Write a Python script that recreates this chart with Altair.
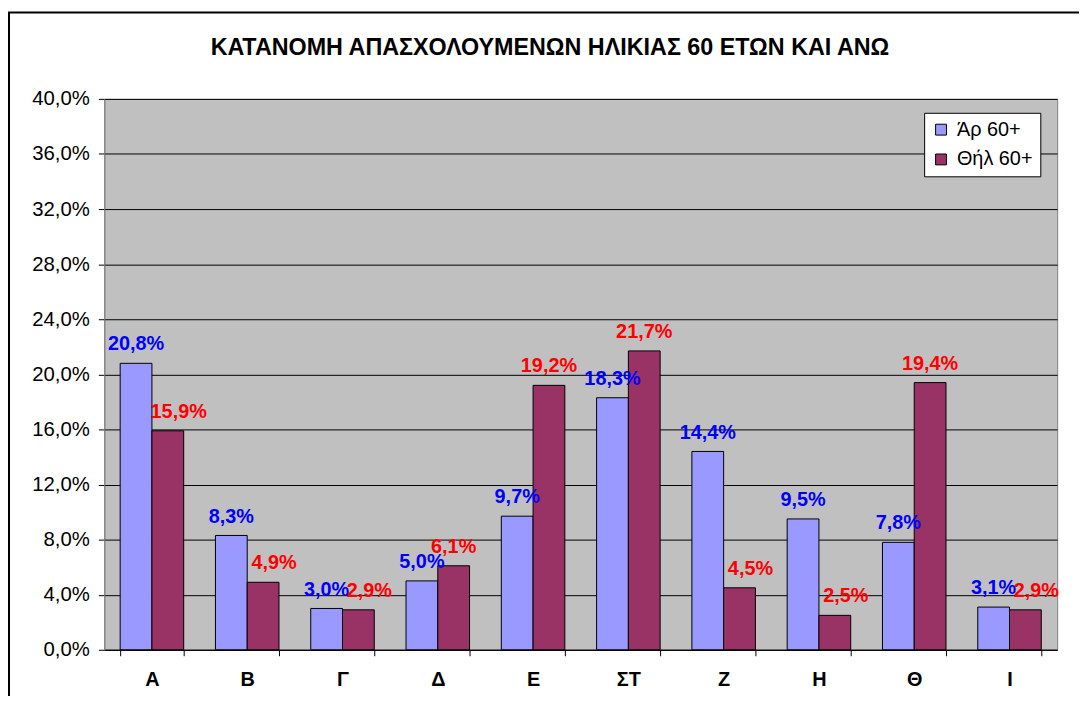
import altair as alt
import pandas as pd

categories = ["Α", "Β", "Γ", "Δ", "Ε", "ΣΤ", "Ζ", "Η", "Θ", "Ι"]
series = ["Άρ 60+", "Θήλ 60+"]
male = [20.8, 8.3, 3.0, 5.0, 9.7, 18.3, 14.4, 9.5, 7.8, 3.1]
female = [15.9, 4.9, 2.9, 6.1, 19.2, 21.7, 4.5, 2.5, 19.4, 2.9]
bar_colors = ["#9999FF", "#993366"]
label_colors = ["#0000FF", "#FF0000"]
y_ticks = [0, 4, 8, 12, 16, 20, 24, 28, 32, 36, 40]
title_text = ["ΚΑΤΑΝΟΜΗ ΑΠΑΣΧΟΛΟΥΜΕΝΩΝ ΗΛΙΚΙΑΣ 60 ΕΤΩΝ ΚΑΙ ΑΝΩ"]

rows = []
for c, m, f in zip(categories, male, female):
    rows.append({"cat": c, "series": series[0], "value": m})
    rows.append({"cat": c, "series": series[1], "value": f})
df = pd.DataFrame(rows)

FONT = "Liberation Sans"

x_enc = alt.X(
    "cat:N",
    sort=categories,
    scale=alt.Scale(paddingInner=1 / 3, paddingOuter=1 / 6),
    axis=alt.Axis(
        title=None,
        labelAngle=0,
        labelFont=FONT,
        labelFontSize=20,
        labelFontWeight="bold",
        labelColor="black",
        labelPadding=14,
        tickBand="extent",
        tickSize=6,
        tickColor="#000000",
        domainColor="#000000",
        grid=False,
    ),
)
xoff = alt.XOffset("series:N", sort=series)
y_enc = alt.Y(
    "value:Q",
    scale=alt.Scale(domain=[0, 40], nice=False),
    axis=alt.Axis(
        title=None,
        values=y_ticks,
        labelExpr="replace(format(datum.value, '.1f'), '.', ',') + '%'",
        labelFont=FONT,
        labelFontSize=20.5,
        labelColor="black",
        labelPadding=9,
        tickSize=6,
        tickColor="#000000",
        domainColor="#808080",
        grid=True,
        gridColor="#000000",
        gridWidth=1,
        gridOpacity=1,
    ),
)

bars = alt.Chart(df).mark_bar(stroke="black", strokeWidth=1).encode(
    x=x_enc,
    xOffset=xoff,
    y=y_enc,
    color=alt.Color(
        "series:N",
        sort=series,
        scale=alt.Scale(domain=series, range=bar_colors),
        legend=alt.Legend(
            title=None,
            orient="none",
            legendX=826,
            legendY=14,
            fillColor="white",
            strokeColor="black",
            padding=7,
            symbolType="square",
            symbolSize=120,
            symbolStrokeColor="black",
            symbolStrokeWidth=1,
            symbolOpacity=1,
            labelFont=FONT,
            labelFontSize=20,
            labelColor="black",
            rowPadding=10,
            labelOffset=6,
        ),
    ),
)

label_base = (
    alt.Chart(df)
    .transform_calculate(
        label="replace(format(datum.value, '.1f'), '.', ',') + '%'"
    )
    .transform_joinaggregate(maxv="max(value)", groupby=["cat"])
)
text_enc = dict(
    x=alt.X("cat:N", sort=categories),
    xOffset=xoff,
    y=alt.Y("value:Q"),
    text="label:N",
)
text_style = dict(baseline="alphabetic", dy=-13, font=FONT, fontSize=20, fontWeight="bold")

labels_m = (
    label_base.transform_filter(alt.datum.series == series[0])
    .mark_text(color=label_colors[0], **text_style)
    .encode(**text_enc)
)
labels_f_tall = (
    label_base.transform_filter(
        (alt.datum.series == series[1]) & (alt.datum.value >= alt.datum.maxv)
    )
    .mark_text(color=label_colors[1], **text_style)
    .encode(**text_enc)
)
labels_f_short = (
    label_base.transform_filter(
        (alt.datum.series == series[1]) & (alt.datum.value < alt.datum.maxv)
    )
    .mark_text(color=label_colors[1], dx=11, **text_style)
    .encode(**text_enc)
)

frame = (
    alt.Chart(pd.DataFrame({"a": [0]}))
    .mark_rect(fill=None, stroke="black", strokeWidth=2)
    .encode(
        x=alt.value(-96),
        x2=alt.value(1000),
        y=alt.value(-87),
        y2=alt.value(700),
    )
)

title = (
    alt.Chart(pd.DataFrame({"t": title_text}))
    .mark_text(font=FONT, fontSize=23.5, fontWeight="bold", color="black",
               align="center", baseline="middle")
    .encode(text="t:N", x=alt.value(449), y=alt.value(-51))
)

chart = (
    alt.layer(frame, bars, labels_m, labels_f_tall, labels_f_short, title)
    .properties(
        width=960,
        height=555,
        autosize=alt.AutoSizeParams(type="none"),
        padding={"left": 97, "top": 89, "right": 22, "bottom": 44},
        background="white",
    )
    .configure_view(fill="#C0C0C0", stroke="#808080", strokeWidth=1)
)

chart.save("out.html", embed_options={"renderer": "svg", "actions": False})
